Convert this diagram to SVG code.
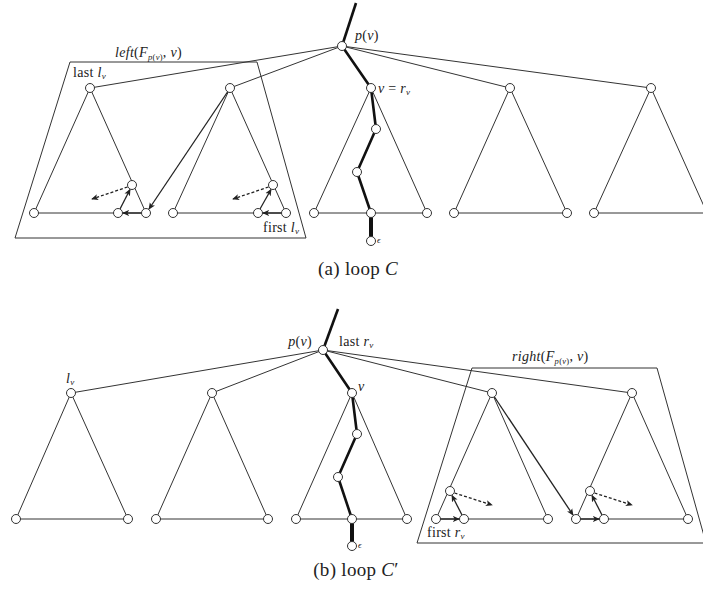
<svg xmlns="http://www.w3.org/2000/svg" width="703" height="590" viewBox="0 0 703 590">
<style>
.e{stroke:#333;stroke-width:1;fill:none}
.t{stroke:#111;stroke-width:2.6;fill:none;stroke-linejoin:round}
.tt{stroke:#111;stroke-width:4;fill:none}
.box{stroke:#333;stroke-width:1;fill:none}
.n{fill:#fff;stroke:#333;stroke-width:1}
.a{stroke:#222;stroke-width:1.3;fill:none;marker-end:url(#ah)}
.d{stroke:#222;stroke-width:1.3;fill:none;stroke-dasharray:3,2;marker-end:url(#ah)}
text{font-family:"Liberation Serif","DejaVu Serif",serif;font-size:14px;fill:#222;letter-spacing:0.3px}
.i{font-style:italic}
.s{font-size:9px}
.ss{font-size:8.5px}
.cap{font-size:19px}
</style>
<defs>
<marker id="ah" viewBox="0 0 8 8" refX="7" refY="4" markerWidth="7" markerHeight="7" markerUnits="userSpaceOnUse" orient="auto">
<path d="M0,0.5 L8,4 L0,7.5 L2,4 z" fill="#222"/>
</marker>
</defs>

<!-- ===== (a) loop C ===== -->
<g id="connectors-a">
<polygon class="box" points="70,62 257,62 306,238 15,238"/>
<line class="t" x1="356" y1="3" x2="342" y2="46"/>
<line class="e" x1="342" y1="46" x2="90" y2="88"/>
<line class="e" x1="342" y1="46" x2="230" y2="88"/>
<line class="e" x1="342" y1="46" x2="510" y2="88"/>
<line class="e" x1="342" y1="46" x2="651" y2="88"/>
<polyline class="e" points="146,213 90,88 34,213 146,213"/>
<polyline class="e" points="286,213 230,88 173,213 286,213"/>
<polyline class="e" points="427,213 371,88 314,213 427,213"/>
<polyline class="e" points="567,213 510,88 454,213 567,213"/>
<polyline class="e" points="707,213 651,88 594,213 707,213"/>
<polyline class="t" points="342,46 371,88 376,129 357,172 371,213"/>
<line class="tt" x1="371" y1="213" x2="371" y2="241"/>
<line class="a" x1="141.5" y1="213" x2="123" y2="213"/>
<line class="a" x1="120" y1="209" x2="130" y2="189.5"/>
<line class="d" x1="127.5" y1="187" x2="92" y2="199"/>
<line class="a" x1="227.5" y1="92" x2="149" y2="209"/>
<line class="a" x1="281.5" y1="213" x2="263" y2="213"/>
<line class="a" x1="260" y1="209" x2="271" y2="189.5"/>
<line class="d" x1="268.5" y1="187" x2="233" y2="199"/>
</g>
<g id="nodes-a">
<g id="a-pv"><circle class="n" cx="342" cy="46" r="4.5"/></g>
<g id="a-t1"><circle class="n" cx="90" cy="88" r="4.5"/><circle class="n" cx="34" cy="213" r="4.5"/><circle class="n" cx="146" cy="213" r="4.5"/><circle class="n" cx="132" cy="185" r="4.5"/><circle class="n" cx="118" cy="213" r="4.5"/></g>
<g id="a-t2"><circle class="n" cx="230" cy="88" r="4.5"/><circle class="n" cx="173" cy="213" r="4.5"/><circle class="n" cx="286" cy="213" r="4.5"/><circle class="n" cx="273" cy="185" r="4.5"/><circle class="n" cx="258" cy="213" r="4.5"/></g>
<g id="a-t3"><circle class="n" cx="371" cy="88" r="4.5"/><circle class="n" cx="314" cy="213" r="4.5"/><circle class="n" cx="427" cy="213" r="4.5"/><circle class="n" cx="376" cy="129" r="4.5"/><circle class="n" cx="357" cy="172" r="4.5"/><circle class="n" cx="371" cy="213" r="4.5"/><circle class="n" cx="371" cy="241" r="4.5"/></g>
<g id="a-t4"><circle class="n" cx="510" cy="88" r="4.5"/><circle class="n" cx="454" cy="213" r="4.5"/><circle class="n" cx="567" cy="213" r="4.5"/></g>
<g id="a-t5"><circle class="n" cx="651" cy="88" r="4.5"/><circle class="n" cx="594" cy="213" r="4.5"/></g>
</g>
<g id="labels-a">
<text x="115" y="57"><tspan class="i">left</tspan>(<tspan class="i">F</tspan><tspan class="ss i" dy="3">p</tspan><tspan class="ss">(</tspan><tspan class="ss i">v</tspan><tspan class="ss">)</tspan><tspan dy="-3">, </tspan><tspan class="i">v</tspan>)</text>
<text x="73" y="77">last <tspan class="i">l</tspan><tspan class="s i" dy="2">v</tspan></text>
<text x="355" y="40"><tspan class="i">p</tspan>(<tspan class="i">v</tspan>)</text>
<text x="378" y="93"><tspan class="i">v</tspan> = <tspan class="i">r</tspan><tspan class="s i" dy="2">v</tspan></text>
<text x="263" y="232">first <tspan class="i">l</tspan><tspan class="s i" dy="2">v</tspan></text>
<text x="377" y="243" class="s i">ϵ</text>
<text x="358" y="275" class="cap" text-anchor="middle">(a) loop <tspan class="i">C</tspan></text>
</g>

<!-- ===== (b) loop C' ===== -->
<g id="connectors-b">
<polygon class="box" points="472,368 657,368 706,543 417,543"/>
<line class="t" x1="338" y1="309" x2="323" y2="350"/>
<line class="e" x1="323" y1="350" x2="71" y2="393"/>
<line class="e" x1="323" y1="350" x2="212" y2="393"/>
<line class="e" x1="323" y1="350" x2="492" y2="393"/>
<line class="e" x1="323" y1="350" x2="632" y2="393"/>
<polyline class="e" points="128,519 71,393 16,519 128,519"/>
<polyline class="e" points="268,519 212,393 156,519 268,519"/>
<polyline class="e" points="407,519 352,393 296,519 407,519"/>
<polyline class="e" points="548,519 492,393 436,519 548,519"/>
<polyline class="e" points="688,519 632,393 576,519 688,519"/>
<polyline class="t" points="323,350 352,393 357,434 338,477 352,519"/>
<line class="tt" x1="352" y1="519" x2="352" y2="546"/>
<line class="a" x1="440.5" y1="519" x2="459" y2="519"/>
<line class="a" x1="462" y1="515" x2="452" y2="495.5"/>
<line class="d" x1="454.5" y1="493" x2="492" y2="505"/>
<line class="a" x1="494.5" y1="397" x2="573" y2="515"/>
<line class="a" x1="580.5" y1="519" x2="599" y2="519"/>
<line class="a" x1="602" y1="515" x2="592" y2="495.5"/>
<line class="d" x1="594.5" y1="493" x2="632" y2="505"/>
</g>
<g id="nodes-b">
<g id="b-pv"><circle class="n" cx="323" cy="350" r="4.5"/></g>
<g id="b-t1"><circle class="n" cx="71" cy="393" r="4.5"/><circle class="n" cx="16" cy="519" r="4.5"/><circle class="n" cx="128" cy="519" r="4.5"/></g>
<g id="b-t2"><circle class="n" cx="212" cy="393" r="4.5"/><circle class="n" cx="156" cy="519" r="4.5"/><circle class="n" cx="268" cy="519" r="4.5"/></g>
<g id="b-t3"><circle class="n" cx="352" cy="393" r="4.5"/><circle class="n" cx="296" cy="519" r="4.5"/><circle class="n" cx="407" cy="519" r="4.5"/><circle class="n" cx="357" cy="434" r="4.5"/><circle class="n" cx="338" cy="477" r="4.5"/><circle class="n" cx="352" cy="519" r="4.5"/><circle class="n" cx="352" cy="546" r="4.5"/></g>
<g id="b-ta"><circle class="n" cx="492" cy="393" r="4.5"/><circle class="n" cx="436" cy="519" r="4.5"/><circle class="n" cx="548" cy="519" r="4.5"/><circle class="n" cx="450" cy="491" r="4.5"/><circle class="n" cx="464" cy="519" r="4.5"/></g>
<g id="b-tb"><circle class="n" cx="632" cy="393" r="4.5"/><circle class="n" cx="576" cy="519" r="4.5"/><circle class="n" cx="688" cy="519" r="4.5"/><circle class="n" cx="590" cy="491" r="4.5"/><circle class="n" cx="604" cy="519" r="4.5"/></g>
</g>
<g id="labels-b">
<text x="312" y="346" text-anchor="end"><tspan class="i">p</tspan>(<tspan class="i">v</tspan>)</text>
<text x="339" y="346">last <tspan class="i">r</tspan><tspan class="s i" dy="2">v</tspan></text>
<text x="66" y="383"><tspan class="i">l</tspan><tspan class="s i" dy="2">v</tspan></text>
<text x="358" y="391" class="i">v</text>
<text x="512" y="361"><tspan class="i">right</tspan>(<tspan class="i">F</tspan><tspan class="ss i" dy="3">p</tspan><tspan class="ss">(</tspan><tspan class="ss i">v</tspan><tspan class="ss">)</tspan><tspan dy="-3">, </tspan><tspan class="i">v</tspan>)</text>
<text x="427" y="537">first <tspan class="i">r</tspan><tspan class="s i" dy="2">v</tspan></text>
<text x="358" y="548" class="s i">ϵ</text>
<text x="356" y="576" class="cap" text-anchor="middle">(b) loop <tspan class="i">C</tspan>′</text>
</g>
</svg>
